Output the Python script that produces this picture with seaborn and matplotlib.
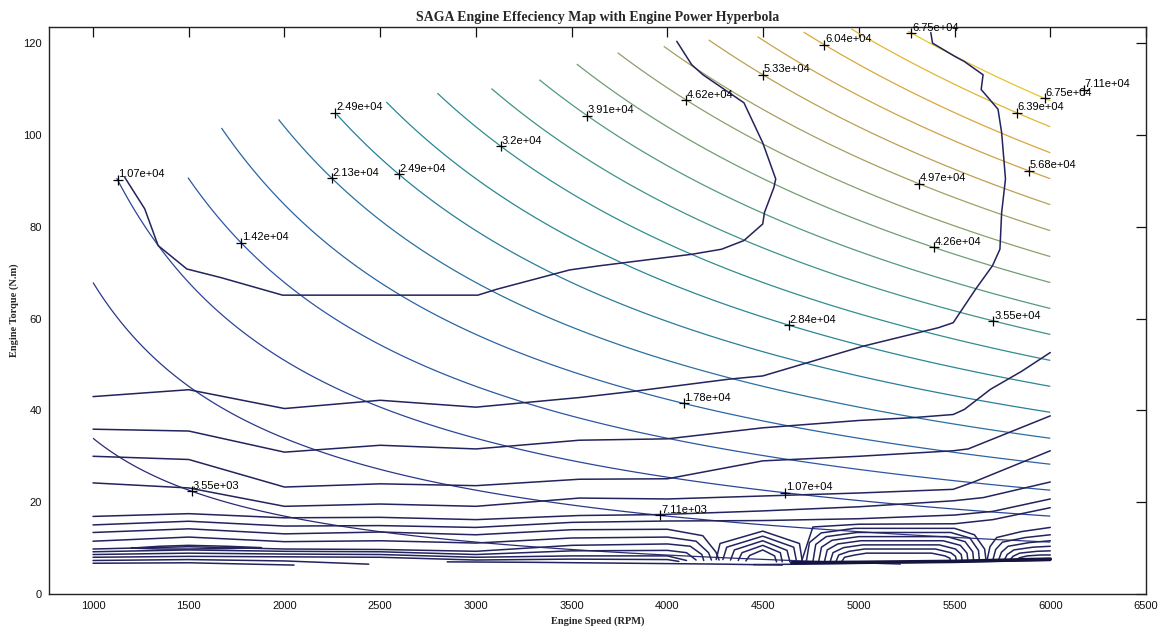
import numpy as np
import matplotlib
matplotlib.use("Agg")
import matplotlib.pyplot as plt
from matplotlib.colors import LinearSegmentedColormap
import seaborn as sns

# ---------------- data ----------------
power_levels = [3553, 7106, 10658, 14210, 17763, 21316, 24868, 28421, 31973, 35526,
                39079, 42631, 46184, 49736, 53289, 56842, 60394, 63947, 67499, 71052]
hyperbola_palette = ['#2c2a74', '#2b3f93', '#2c56a3', '#2a6aa3', '#2a7c9c', '#2a8a93',
                     '#3a9288', '#5a9a7c', '#82a06e', '#a8a060', '#c8a04c', '#dca63c',
                     '#e8bc30', '#ecd02c']
grid_speed_limits = [1000, 6000]
grid_torque_floor = 6.5
envelope_speed = [1000, 1500, 1670, 1970, 2266, 2510, 2750, 3076, 3330, 3504, 3717, 3975,
                  4205, 4459, 4702, 4946, 5274, 5551, 6000]
envelope_torque = [90.6, 90.8, 101.6, 103.4, 104.5, 107.1, 109.0, 110.1, 112.1, 115.2, 117.8,
                   119.3, 120.7, 121.4, 122.4, 123.2, 122.6, 116.5, 109.5]

label_levels = [3553, 7106, 10658, 10658, 14210, 17763, 21316, 24868, 24868, 28421, 31973,
                35526, 39079, 42631, 46184, 49736, 53289, 56842, 60394, 63947, 67499, 67499, 71052]
label_speeds = [1515, 3963, 4615, 1128, 1774, 4086, 2246, 2266, 2596, 4634, 3130,
                5703, 3582, 5391, 4098, 5313, 4498, 5889, 4820, 5824, 5274, 5971, 6175]
label_texts = ['3.55e+03', '7.11e+03', '1.07e+04', '1.07e+04', '1.42e+04', '1.78e+04',
               '2.13e+04', '2.49e+04', '2.49e+04', '2.84e+04', '3.2e+04', '3.55e+04',
               '3.91e+04', '4.26e+04', '4.62e+04', '4.97e+04', '5.33e+04', '5.68e+04',
               '6.04e+04', '6.39e+04', '6.75e+04', '6.75e+04', '7.11e+04']

# efficiency contour lines (speed rpm, torque N.m)
eff_top_rpm = [1165, 1200, 1270, 1340, 1490, 1670, 1990, 3010, 3110, 3490, 3646, 4127, 4283,
               4400, 4498, 4507, 4556, 4566, 4498, 4400, 4186, 4127, 4049]
eff_top_trq = [90.8, 88.5, 83.9, 75.9, 70.8, 68.9, 65.1, 65.1, 66.4, 70.6, 71.5, 74.0, 75.1,
               77.0, 80.6, 83.1, 88.5, 90.4, 98.3, 107.0, 113.1, 115.3, 120.4]
eff_a_rpm = [1000, 1500, 2000, 2500, 3000, 3541, 3834, 4322, 4498, 5024, 5415, 5493, 5610,
             5698, 5737, 5746, 5766, 5746, 5727, 5639, 5649, 5551, 5502, 5385, 5376]
eff_a_trq = [43.0, 44.5, 40.4, 42.2, 40.7, 42.8, 44.2, 46.8, 47.5, 54.0, 58.0, 59.1, 66.4,
             71.5, 75.1, 83.1, 90.4, 100.5, 105.6, 109.9, 113.1, 116.0, 117.1, 120.0, 122.3]
eff_b_rpm = [1000, 1500, 2000, 2500, 3000, 3541, 4000, 4498, 5000, 5278, 5493, 5551, 5688, 5850, 6000]
eff_b_trq = [35.9, 35.5, 30.9, 32.4, 31.6, 33.5, 33.8, 36.2, 37.8, 38.4, 39.1, 40.2, 44.6, 48.5, 52.6]
eff_c_rpm = [1000, 1500, 2000, 2500, 3000, 3541, 4000, 4498, 5000, 5493, 5571, 6000]
eff_c_trq = [30.0, 29.3, 23.3, 24.0, 23.6, 25.0, 25.1, 29.0, 30.0, 31.2, 31.6, 38.8]
eff_d_rpm = [1000, 1500, 2000, 2500, 3000, 3541, 4000, 4615, 5000, 5493, 5600, 6000]
eff_d_trq = [24.2, 23.1, 19.1, 19.6, 19.1, 20.9, 20.7, 21.5, 22.0, 22.8, 24.4, 31.2]
eff_e_rpm = [1000, 1500, 2000, 2500, 3000, 3541, 3961, 4498, 5000, 5493, 5650, 6000]
eff_e_trq = [16.9, 17.5, 16.6, 16.7, 16.2, 17.1, 17.3, 18.1, 19.0, 20.3, 21.0, 24.4]
eff_f_rpm = [1000, 1500, 2000, 2500, 3000, 3500, 4000, 4500, 5000, 5500, 5700, 6000]
eff_f_trq = [15.05, 15.85, 14.8, 14.9, 14.5, 15.6, 15.9, 16.0, 16.4, 17.2, 18.0, 20.7]
eff_g_rpm = [1000, 1500, 2000, 2500, 3000, 3500, 4000, 4185, 4254, 4270]
eff_g_trq = [13.4, 14.2, 13.1, 13.5, 12.9, 14.0, 14.1, 12.7, 9.1, 7.4]
eff_h_rpm = [1000, 1500, 2000, 2500, 3000, 3500, 4000, 4150, 4215, 4230]
eff_h_trq = [11.5, 12.4, 11.4, 11.6, 11.1, 12.2, 12.4, 11.5, 9.0, 7.4]
eff_x_rpm = [4700, 4760, 5000, 5500, 5700, 6000]
eff_x_trq = [7.0, 14.6, 15.2, 15.3, 16.2, 18.8]
eff_d1_rpm = [1000, 1500, 2000, 2500, 3000, 3500, 4000, 4120, 4180, 4190]
eff_d1_trq = [9.8, 10.3, 9.8, 9.7, 9.3, 10.6, 10.9, 10.4, 8.6, 7.3]
eff_d2_rpm = [1000, 1500, 2000, 2500, 3000, 3500, 4000, 4100, 4150]
eff_d2_trq = [9.2, 9.6, 9.3, 9.2, 8.6, 9.4, 9.5, 9.0, 7.4]
eff_d3_rpm = [1000, 1500, 2000, 2500, 3000, 3500, 4000, 4100]
eff_d3_trq = [8.6, 8.9, 8.7, 8.6, 8.0, 8.3, 8.3, 7.3]
eff_d4_rpm = [1000, 1500, 2000, 2500, 3000, 3500, 4000, 4060]
eff_d4_trq = [8.0, 8.2, 8.1, 8.0, 7.4, 7.6, 7.5, 7.1]
eff_d5_rpm = [1000, 1500, 2000, 2440]
eff_d5_trq = [7.3, 7.5, 7.2, 6.5]
eff_d6_rpm = [1000, 1500, 2050]
eff_d6_trq = [6.7, 6.8, 6.3]
eff_d7_rpm = [2850, 3300, 3800, 4300, 4600]
eff_d7_trq = [7.0, 6.9, 6.7, 6.5, 6.3]
eff_lens_rpm = [1200, 1350, 1500, 1700, 1880, 1700, 1500, 1350, 1200]
eff_lens_trq = [10.0, 10.4, 10.6, 10.4, 10.1, 9.9, 9.8, 9.8, 10.0]
# inverted-V family near 4500 rpm
b2_1_rpm = [4255, 4275, 4498, 4690, 4705]
b2_1_trq = [7.5, 11.0, 13.7, 11.0, 7.0]
b2_2_rpm = [4290, 4310, 4498, 4660, 4675]
b2_2_trq = [7.5, 10.2, 12.6, 10.2, 7.0]
b2_3_rpm = [4330, 4350, 4498, 4625, 4640]
b2_3_trq = [7.4, 9.6, 11.6, 9.5, 7.0]
b2_4_rpm = [4370, 4390, 4498, 4590, 4600]
b2_4_trq = [7.3, 9.0, 10.6, 9.0, 7.0]
b2_5_rpm = [4410, 4430, 4498, 4560, 4570]
b2_5_trq = [7.2, 8.4, 9.6, 8.3, 7.0]
# flat-top family 4750-5650 rpm
b3_1_rpm = [4725, 4742, 4803, 4977, 5500, 5604, 5657, 5665]
b3_1_trq = [6.9, 11.2, 13.3, 14.3, 14.3, 12.9, 9.8, 7.2]
b3_2_rpm = [4760, 4775, 4830, 4990, 5480, 5580, 5625, 5630]
b3_2_trq = [7.0, 10.8, 12.5, 13.4, 13.4, 12.2, 9.5, 7.2]
b3_3_rpm = [4790, 4805, 4860, 5000, 5460, 5555, 5595, 5600]
b3_3_trq = [7.0, 10.2, 11.7, 12.5, 12.5, 11.4, 9.2, 7.2]
b3_4_rpm = [4820, 4835, 4890, 5010, 5440, 5530, 5565, 5570]
b3_4_trq = [7.0, 9.6, 10.9, 11.6, 11.6, 10.6, 8.9, 7.2]
b3_5_rpm = [4850, 4865, 4920, 5020, 5420, 5505, 5535, 5540]
b3_5_trq = [7.0, 9.0, 10.1, 10.7, 10.7, 9.8, 8.6, 7.2]
b3_6_rpm = [4880, 4895, 4950, 5030, 5400, 5480, 5505, 5510]
b3_6_trq = [7.0, 8.5, 9.3, 9.8, 9.8, 9.0, 8.2, 7.2]
b3_7_rpm = [4910, 4925, 4980, 5040, 5380, 5450, 5475, 5480]
b3_7_trq = [7.0, 8.0, 8.5, 8.9, 8.9, 8.3, 7.8, 7.2]
# rising family at the right edge
b4_1_rpm = [5670, 5685, 5720, 5850, 6000]
b4_1_trq = [7.4, 10.3, 12.3, 13.6, 14.5]
b4_2_rpm = [5700, 5715, 5750, 5870, 6000]
b4_2_trq = [7.4, 9.7, 11.3, 12.3, 12.9]
b4_3_rpm = [5730, 5745, 5780, 5890, 6000]
b4_3_trq = [7.4, 9.1, 10.4, 11.2, 11.6]
b4_4_rpm = [5760, 5775, 5810, 5910, 6000]
b4_4_trq = [7.4, 8.6, 9.6, 10.2, 10.4]
b4_5_rpm = [5790, 5805, 5840, 5930, 6000]
b4_5_trq = [7.4, 8.2, 8.9, 9.3, 9.4]
b4_6_rpm = [5820, 5840, 5880, 5950, 6000]
b4_6_trq = [7.4, 7.9, 8.3, 8.5, 8.5]
bottom1_rpm = [4450, 4700, 5000, 5500, 6000]
bottom1_trq = [6.4, 6.5, 6.7, 7.0, 7.3]
bottom2_rpm = [4650, 5000, 5500, 6000]
bottom2_trq = [6.8, 6.9, 7.1, 7.6]

x_ticks = [1000, 1500, 2000, 2500, 3000, 3500, 4000, 4500, 5000, 5500, 6000, 6500]
y_ticks = [0, 20, 40, 60, 80, 100, 120]

# ---------------- styling ----------------
sns.set_style("white")
plt.rcParams['font.family'] = ['Liberation Sans', 'DejaVu Sans']

fig = plt.figure(figsize=(11.66, 6.33), dpi=100)
ax = fig.add_axes([49 / 1166, 39 / 633, 1097 / 1166, 567.4 / 633])

# power hyperbolas from the power map P = T * w
speed = np.linspace(grid_speed_limits[0], grid_speed_limits[1], 1001)
torque = np.linspace(0, 125, 1251)
S, T = np.meshgrid(speed, torque)
P = T * S * 2 * np.pi / 60.0
mask = (T > np.interp(S, envelope_speed, envelope_torque)) | (T < grid_torque_floor)
Pm = np.ma.array(P, mask=mask)
cmap = LinearSegmentedColormap.from_list('hyp', hyperbola_palette)
ax.contour(S, T, Pm, levels=power_levels, cmap=cmap,
           vmin=power_levels[0], vmax=power_levels[-1], linewidths=0.9)

# efficiency contours
eff_color = '#23235e'
eff_lines = [
    (eff_top_rpm, eff_top_trq), (eff_a_rpm, eff_a_trq), (eff_b_rpm, eff_b_trq),
    (eff_c_rpm, eff_c_trq), (eff_d_rpm, eff_d_trq), (eff_e_rpm, eff_e_trq),
    (eff_f_rpm, eff_f_trq), (eff_g_rpm, eff_g_trq), (eff_h_rpm, eff_h_trq),
    (eff_x_rpm, eff_x_trq), (eff_d1_rpm, eff_d1_trq), (eff_d2_rpm, eff_d2_trq),
    (eff_d3_rpm, eff_d3_trq), (eff_d4_rpm, eff_d4_trq), (eff_d5_rpm, eff_d5_trq),
    (eff_d6_rpm, eff_d6_trq), (eff_d7_rpm, eff_d7_trq), (eff_lens_rpm, eff_lens_trq),
    (b2_1_rpm, b2_1_trq), (b2_2_rpm, b2_2_trq), (b2_3_rpm, b2_3_trq),
    (b2_4_rpm, b2_4_trq), (b2_5_rpm, b2_5_trq),
    (b3_1_rpm, b3_1_trq), (b3_2_rpm, b3_2_trq), (b3_3_rpm, b3_3_trq),
    (b3_4_rpm, b3_4_trq), (b3_5_rpm, b3_5_trq), (b3_6_rpm, b3_6_trq),
    (b3_7_rpm, b3_7_trq),
    (b4_1_rpm, b4_1_trq), (b4_2_rpm, b4_2_trq), (b4_3_rpm, b4_3_trq),
    (b4_4_rpm, b4_4_trq), (b4_5_rpm, b4_5_trq), (b4_6_rpm, b4_6_trq),
    (bottom1_rpm, bottom1_trq),
]
for xs, ys in eff_lines:
    sns.lineplot(x=xs, y=ys, sort=False, estimator=None, color=eff_color,
                 linewidth=1.1, ax=ax, legend=False)
sns.lineplot(x=bottom2_rpm, y=bottom2_trq, sort=False, estimator=None, color='#14143f',
             linewidth=2.6, ax=ax, legend=False)

# contour labels (MATLAB clabel style: '+' marker with text)
w_factor = 2 * np.pi / 60.0
lab_x = np.array(label_speeds, dtype=float)
lab_y = np.array(label_levels, dtype=float) / (lab_x * w_factor)
ax.plot(lab_x, lab_y, linestyle='none', marker='+', color='black', markersize=7,
        markeredgewidth=0.9, zorder=5)
for x, y, t in zip(lab_x, lab_y, label_texts):
    ax.annotate(t, (x, y), xytext=(0.5, 0.3), textcoords='offset points',
                ha='left', va='bottom', fontsize=8, color='black', zorder=6)

ax.set_xlim(770, 6500)
ax.set_ylim(0, 123.6)
ax.set_xticks(x_ticks)
ax.set_yticks(y_ticks)
ax.tick_params(direction='in', length=7, width=0.9, top=True, right=True,
               labelsize=8, colors='#111111', pad=5)
for sp in ax.spines.values():
    sp.set_visible(True)
    sp.set_color('#222222')
    sp.set_linewidth(1.0)

ax.set_title('SAGA Engine Effeciency Map with Engine Power Hyperbola',
             family='Liberation Serif', weight='bold', fontsize=10, pad=4)
ax.set_xlabel('Engine Speed (RPM)', family='Liberation Serif', weight='bold',
              fontsize=7.5, labelpad=4)
ax.set_ylabel('Engine Torque (N.m)', family='Liberation Serif', weight='bold',
              fontsize=7.5, labelpad=3)

fig.savefig('out.png', dpi=100)
